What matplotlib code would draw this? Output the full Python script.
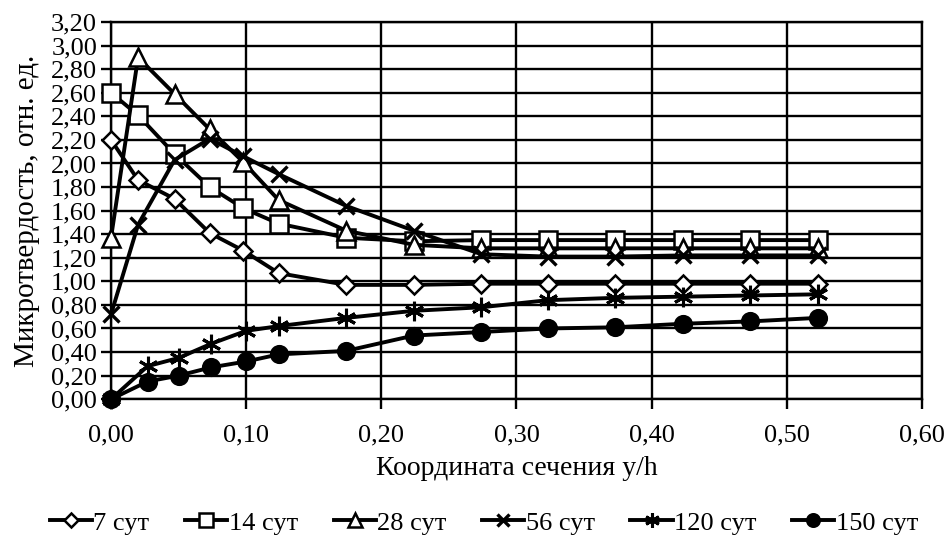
import matplotlib

matplotlib.use("Agg")
import matplotlib.pyplot as plt  # noqa: E402
from matplotlib.ticker import FuncFormatter, MultipleLocator  # noqa: E402

# y/h coordinates of the measuring points
x_a = [0, 0.020, 0.047, 0.073, 0.098, 0.124, 0.174, 0.224, 0.274, 0.323, 0.373, 0.423, 0.473, 0.523]
x_b = [0, 0.027, 0.050, 0.074, 0.100, 0.124, 0.174, 0.224, 0.274, 0.323, 0.373, 0.423, 0.473, 0.523]

# relative microhardness per curing age
hv_7 = [2.20, 1.86, 1.70, 1.41, 1.26, 1.07, 0.97, 0.97, 0.98, 0.98, 0.98, 0.98, 0.98, 0.98]
hv_14 = [2.60, 2.41, 2.08, 1.80, 1.62, 1.49, 1.37, 1.34, 1.35, 1.35, 1.35, 1.35, 1.35, 1.35]
hv_28 = [1.37, 2.90, 2.59, 2.29, 2.01, 1.69, 1.43, 1.31, 1.28, 1.28, 1.28, 1.28, 1.28, 1.28]
hv_56 = [0.72, 1.48, 2.03, 2.21, 2.06, 1.91, 1.64, 1.43, 1.23, 1.21, 1.21, 1.22, 1.22, 1.22]
hv_120 = [0.00, 0.28, 0.35, 0.47, 0.58, 0.62, 0.69, 0.75, 0.78, 0.84, 0.86, 0.87, 0.88, 0.89]
hv_150 = [0.00, 0.15, 0.20, 0.27, 0.32, 0.38, 0.41, 0.54, 0.57, 0.60, 0.61, 0.64, 0.66, 0.69]

labels = ["7 сут", "14 сут", "28 сут", "56 сут", "120 сут", "150 сут"]

plt.rcParams["font.family"] = ["Liberation Serif", "DejaVu Serif"]


def comma(v, _pos):
    return f"{v:.2f}".replace(".", ",")


def main() -> None:
    fig = plt.figure(figsize=(9.49, 5.38), dpi=100)
    ax = fig.add_axes([0.117, 0.258, 0.8545, 0.701])

    series = [
        (x_a, hv_7, dict(marker="D", ms=9, mfc="white")),
        (x_a, hv_14, dict(marker="s", ms=13, mfc="white")),
        (x_a, hv_28, dict(marker="^", ms=13, mfc="white")),
        (x_a, hv_56, dict(marker="x", ms=12, mew=2.4)),
        (x_b, hv_120, dict(marker=(6, 2, 0), ms=14, mew=2.2)),
        (x_b, hv_150, dict(marker="o", ms=12, mfc="black")),
    ]
    for (xs, ys, style), lab in zip(series, labels):
        style.setdefault("mew", 1.8)
        ax.plot(xs, ys, color="black", lw=2.8, mec="black", label=lab,
                clip_on=False, zorder=3, **style)

    ax.set_xlim(0, 0.60)
    ax.set_ylim(0, 3.20)
    ax.xaxis.set_major_locator(MultipleLocator(0.10))
    ax.yaxis.set_major_locator(MultipleLocator(0.20))
    ax.xaxis.set_major_formatter(FuncFormatter(comma))
    ax.yaxis.set_major_formatter(FuncFormatter(comma))
    ax.grid(True, color="black", lw=1.7)
    ax.set_axisbelow(True)
    for s in ax.spines.values():
        s.set_linewidth(1.7)
    ax.tick_params(direction="out", length=7, width=1.7, labelsize=19, pad=3)
    ax.tick_params(axis="x", pad=11)

    ax.set_xlabel("Координата сечения y/h", fontsize=20, labelpad=7)
    ax.set_ylabel("Микротвердость, отн. ед.", fontsize=21, labelpad=8)

    fig.legend(loc="center", bbox_to_anchor=(0.51, 0.028), ncol=6, frameon=False,
               fontsize=19, handlelength=1.6, handletextpad=0.05, columnspacing=1.35,
               borderaxespad=0, markerscale=0.75)

    fig.savefig("out.png", dpi=100)


if __name__ == "__main__":
    main()
